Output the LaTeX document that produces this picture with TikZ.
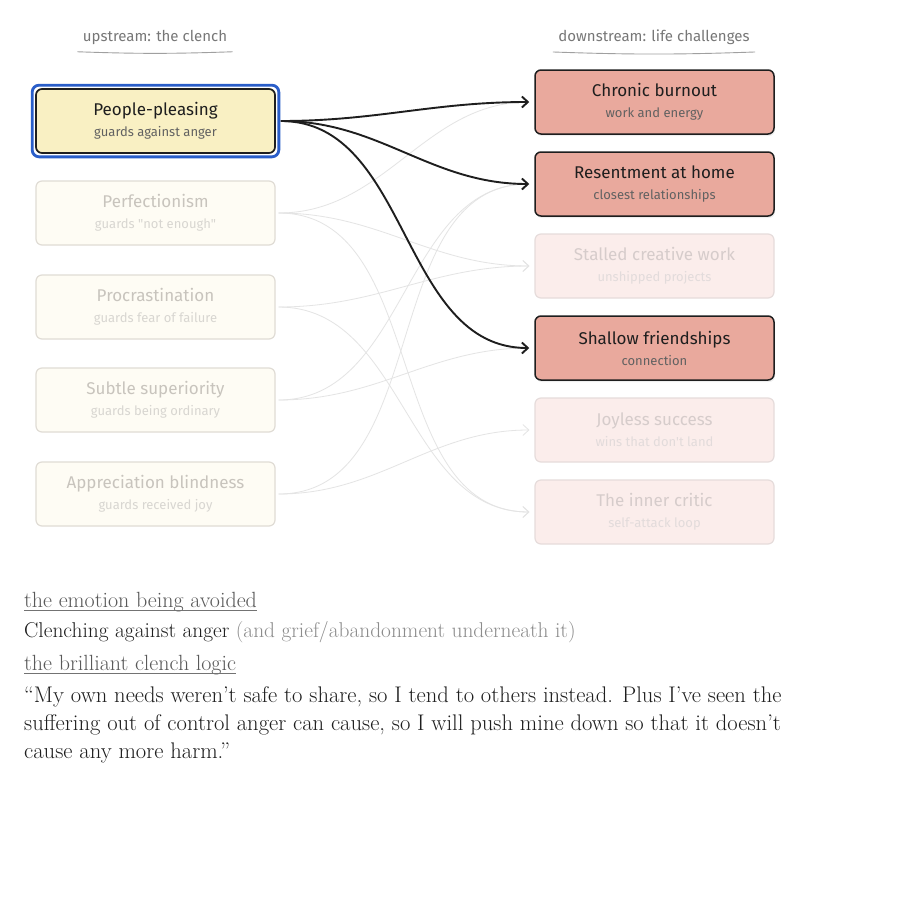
\documentclass[tikz,border=0pt]{standalone}
\usepackage{fontspec}
\newfontfamily\handfont{Fira Sans}
\usetikzlibrary{arrows.meta, shadows}

\definecolor{ink}{HTML}{1E1E1E}
\definecolor{clenchfill}{HTML}{F9F0C3}
\definecolor{clenchfade}{HTML}{FEFCF4}
\definecolor{clenchline}{HTML}{E0DCD5}
\definecolor{clenchtext}{HTML}{C8C4BD}
\definecolor{lifefill}{HTML}{E9A99D}
\definecolor{lifefade}{HTML}{FBEDEB}
\definecolor{lifeline}{HTML}{E6DCDB}
\definecolor{lifetext}{HTML}{D6CCCB}
\definecolor{picked}{HTML}{2A5EC9}
\definecolor{wire}{HTML}{E4E4E4}
\definecolor{headgray}{HTML}{777777}

\newcommand{\boxnote}[1]{\\[2pt]{\fontsize{13}{15}\selectfont\color{.!70!white}#1}}

\begin{document}
\begin{tikzpicture}[x = 1pt, y = -1pt, > = {Straight Barb[length = 6pt, width = 11pt]},
	card/.style = {rounded corners = 6pt, minimum width = 239pt, minimum height = 64pt,
		align = center, font = \handfont\fontsize{17}{19}\selectfont, line width = 1.2pt},
	clench/.style = {card, draw = ink, fill = clenchfill, text = ink, line width = 1.7pt},
	clenchfaded/.style = {card, draw = clenchline, fill = clenchfade, text = clenchtext},
	life/.style = {card, draw = ink, fill = lifefill, text = ink, line width = 1.5pt,
		drop shadow = {opacity = 0.12, shadow xshift = 1pt, shadow yshift = -2pt}},
	lifefaded/.style = {card, draw = lifeline, fill = lifefade, text = lifetext},
	heading/.style = {font = \handfont\fontsize{15}{17}\selectfont, text = headgray},
	prose/.style = {anchor = base west, inner sep = 0pt, font = \fontsize{22}{26}\selectfont}]

	\useasboundingbox [fill = white] (0, 0) rectangle (900, 903);

	% Column headings

	\node [heading] (uphead) at (155, 37) {upstream: the clench};
	\node [heading] (downhead) at (654, 37) {downstream: life challenges};
	\draw [headgray!70, line width = 0.9pt] ([shift = {(-2pt, -4pt)}] uphead.south west) to [bend right = 2] ([shift = {(2pt, -4pt)}] uphead.south east);
	\draw [headgray!70, line width = 0.9pt] ([shift = {(-2pt, -4pt)}] downhead.south west) to [bend right = 2] ([shift = {(2pt, -4pt)}] downhead.south east);

	% Upstream clenches

	\node [clench] (pleasing) at (155.5, 121) {People-pleasing\boxnote{guards against anger}};
	\node [clenchfaded] (perfection) at (155.5, 213) {Perfectionism\boxnote{guards "not enough"}};
	\node [clenchfaded] (procrast) at (155.5, 307) {Procrastination\boxnote{guards fear of failure}};
	\node [clenchfaded] (superior) at (155.5, 400) {Subtle superiority\boxnote{guards being ordinary}};
	\node [clenchfaded] (blind) at (155.5, 494) {Appreciation blindness\boxnote{guards received joy}};

	\draw [picked, line width = 2.8pt, rounded corners = 7pt] ([shift = {(-3pt, 3pt)}] pleasing.north west) rectangle ([shift = {(3pt, -3pt)}] pleasing.south east);

	% Downstream challenges

	\node [life] (burnout) at (654.5, 102) {Chronic burnout\boxnote{work and energy}};
	\node [life] (resent) at (654.5, 184) {Resentment at home\boxnote{closest relationships}};
	\node [lifefaded] (stalled) at (654.5, 266) {Stalled creative work\boxnote{unshipped projects}};
	\node [life] (shallow) at (654.5, 348) {Shallow friendships\boxnote{connection}};
	\node [lifefaded] (joyless) at (654.5, 430) {Joyless success\boxnote{wins that don't land}};
	\node [lifefaded] (critic) at (654.5, 512) {The inner critic\boxnote{self-attack loop}};

	% Faded links of the other clenches

	\begin{scope}[->, wire, line width = 0.8pt, shorten < = 3pt, shorten > = 5pt]

		\draw (perfection.east) to [out = 0, in = 180] (burnout.west);
		\draw (perfection.east) to [out = 0, in = 180] (stalled.west);
		\draw (perfection.east) to [out = 0, in = 180] (critic.west);
		\draw (procrast.east) to [out = 0, in = 180] (stalled.west);
		\draw (procrast.east) to [out = 0, in = 180] (critic.west);
		\draw (superior.east) to [out = 0, in = 180] (resent.west);
		\draw (superior.east) to [out = 0, in = 180] (shallow.west);
		\draw (blind.east) to [out = 0, in = 180] (resent.west);
		\draw (blind.east) to [out = 0, in = 180] (joyless.west);

	\end{scope}

	% Links of the picked clench

	\begin{scope}[->, ink, line width = 1.9pt, shorten < = 5pt, shorten > = 5pt]

		\draw (pleasing.east) to [out = 0, in = 180] (burnout.west);
		\draw (pleasing.east) to [out = 0, in = 180] (resent.west);
		\draw (pleasing.east) to [out = 0, in = 180] (shallow.west);

	\end{scope}

	% Notes below the diagram

	\node [prose, text = black!65] (emotionlbl) at (24, 607) {the emotion being avoided};
	\draw [black!55, line width = 0.8pt] ([yshift = -3.5pt] emotionlbl.base west) -- ([yshift = -3.5pt] emotionlbl.base east);
	\node [prose, text = ink, font = \fontsize{21.4}{26}\selectfont] (emotion) at (24, 637) {Clenching against anger \textcolor{black!45}{(and grief/abandonment underneath it)}};

	\node [prose, text = black!65] (logiclbl) at (24, 670) {the brilliant clench logic};
	\draw [black!55, line width = 0.8pt] ([yshift = -3.5pt] logiclbl.base west) -- ([yshift = -3.5pt] logiclbl.base east);
	\begin{scope}[prose/.append style = {text = ink, font = \fontsize{22.6}{26}\selectfont}]
		\node [prose] (logicone) at (24, 702) {“My own needs weren’t safe to share, so I tend to others instead. Plus I’ve seen the};
		\node [prose] (logictwo) at (24, 730) {suffering out of control anger can cause, so I will push mine down so that it doesn’t};
		\node [prose] (logicthree) at (24, 758) {cause any more harm.”};
	\end{scope}

\end{tikzpicture}
\end{document}
